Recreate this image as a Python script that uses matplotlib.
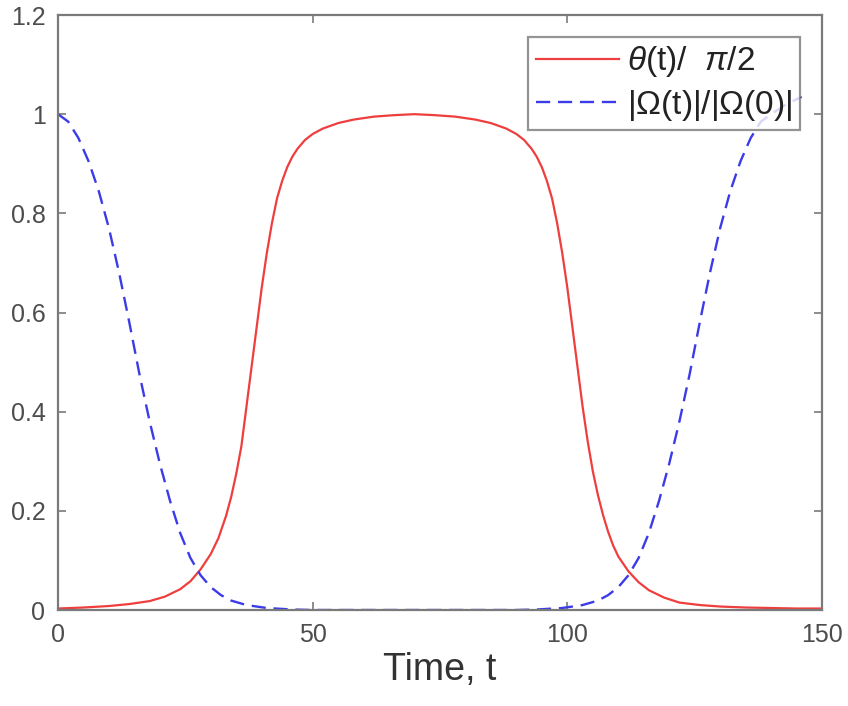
import matplotlib
matplotlib.use("Agg")
import matplotlib.pyplot as plt
from matplotlib.ticker import FuncFormatter

plt.rcParams['font.family'] = ['Liberation Sans', 'DejaVu Sans']
plt.rcParams['mathtext.fontset'] = 'custom'
plt.rcParams['mathtext.it'] = 'Liberation Sans:italic'
plt.rcParams['mathtext.rm'] = 'Liberation Sans'

# Mixing angle theta(t) normalised by pi/2
theta_t = [0, 5, 10, 14, 18, 21, 24, 26, 28, 30, 31.5, 33, 34, 35, 36, 37, 38, 39, 40,
           41, 42, 43, 44, 45, 46, 47, 48.5, 50, 52, 55, 58, 62, 66, 70, 74, 78, 82,
           85, 88, 90, 91.5, 93, 94, 95, 96, 97, 98, 99, 100, 101, 102, 103, 104, 105,
           106, 107, 108, 109, 110, 112, 114, 116, 119, 122, 126, 130, 135, 140, 145,
           150]
theta_v = [0.003, 0.005, 0.008, 0.012, 0.018, 0.027, 0.042, 0.058, 0.082, 0.113, 0.145,
           0.19, 0.228, 0.275, 0.33, 0.41, 0.49, 0.57, 0.65, 0.72, 0.78, 0.83, 0.865,
           0.893, 0.914, 0.93, 0.948, 0.96, 0.971, 0.982, 0.989, 0.995, 0.998, 1.0,
           0.998, 0.995, 0.989, 0.982, 0.971, 0.96, 0.948, 0.93, 0.914, 0.893, 0.865,
           0.83, 0.78, 0.72, 0.65, 0.57, 0.49, 0.41, 0.34, 0.28, 0.232, 0.192, 0.158,
           0.13, 0.108, 0.078, 0.056, 0.04, 0.025, 0.015, 0.01, 0.007, 0.005, 0.004,
           0.003, 0.003]

# Rabi frequency magnitude normalised by its initial value
omega_t = [0, 2, 4, 6, 8, 10, 12, 14, 16, 18, 20, 22, 24, 26, 28, 30, 32, 34, 37, 41,
           46, 50, 90, 94, 99, 103, 106, 108, 110, 112, 114, 116, 118, 120, 122, 124,
           126, 128, 130, 132, 134, 136, 138, 140, 143, 146]
omega_v = [1.0, 0.985, 0.952, 0.905, 0.845, 0.77, 0.68, 0.58, 0.475, 0.38, 0.295, 0.22,
           0.155, 0.105, 0.07, 0.046, 0.03, 0.019, 0.01, 0.004, 0.001, 0.0, 0.0, 0.001,
           0.004, 0.01, 0.019, 0.03, 0.046, 0.07, 0.105, 0.155, 0.22, 0.295, 0.38,
           0.475, 0.58, 0.68, 0.77, 0.845, 0.905, 0.952, 0.985, 1.0, 1.02, 1.035]

x_ticks = [0, 50, 100, 150]
y_ticks = [0, 0.2, 0.4, 0.6, 0.8, 1.0, 1.2]

fig = plt.figure(figsize=(8.48, 7.06), dpi=100)
ax = fig.add_axes([58 / 848, 1 - 610 / 706, 764 / 848, 595 / 706])

ax.plot(theta_t, theta_v, color='#ef3e3e', lw=1.6,
        label=r'$\theta$(t)/  $\pi$/2')
ax.plot(omega_t, omega_v, color='#3b3be8', lw=1.7, dashes=(6, 3.3),
        label=r'|$\Omega$(t)|/|$\Omega$(0)|')

ax.set_xlim(0, 150)
ax.set_ylim(0, 1.2)
ax.set_xticks(x_ticks)
ax.set_yticks(y_ticks)
ax.yaxis.set_major_formatter(FuncFormatter(lambda v, p: f'{v:g}'))

axis_grey = '#7a7a7a'
for sp in ax.spines.values():
    sp.set_color(axis_grey)
    sp.set_linewidth(1.6)
ax.tick_params(direction='in', length=6, width=1.2, colors=axis_grey,
               labelcolor='#4d4d4d', labelsize=18, top=True, right=True, pad=9)

ax.set_xlabel('Time, t', fontsize=27, color='#333333', labelpad=4)

leg = ax.legend(loc='upper right', bbox_to_anchor=(742 / 764, 573 / 595),
                fontsize=24, frameon=True, fancybox=False, shadow=False,
                handlelength=2.5, handletextpad=0.25, borderpad=0.22,
                labelspacing=0.25, borderaxespad=0)
leg.get_frame().set_edgecolor(axis_grey)
leg.get_frame().set_linewidth(1.6)
for txt in leg.get_texts():
    txt.set_color('#222222')

fig.savefig('out.png', dpi=100)
